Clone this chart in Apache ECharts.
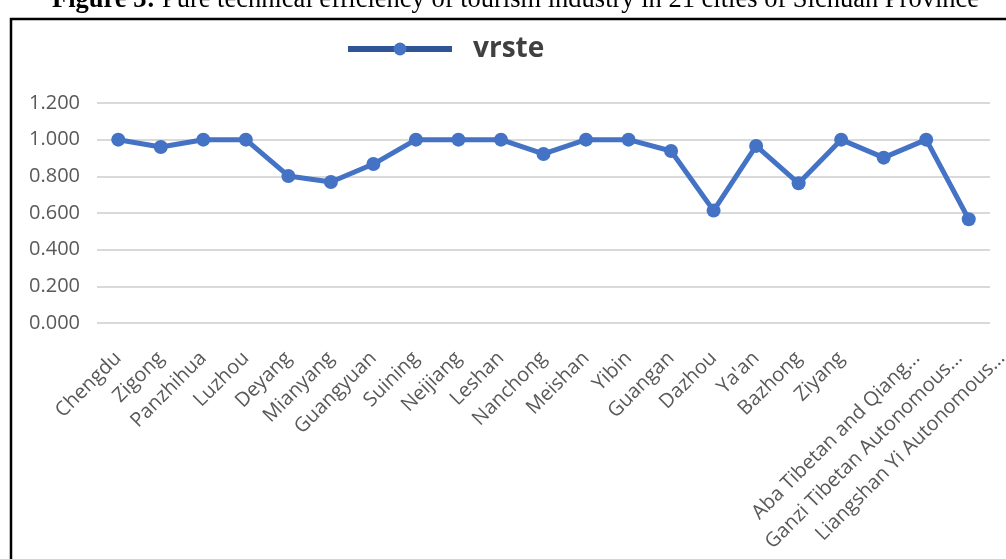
<!DOCTYPE html>
<html>
<head>
<meta charset="utf-8">
<style>
html, body { margin: 0; padding: 0; background: #fff; }
#main { width: 1006px; height: 559px; }
</style>
</head>
<body>
<div id="main"></div>
<script src="https://cdn.jsdelivr.net/npm/echarts@6/dist/echarts.min.js"></script>
<script>
// 21 cities of Sichuan
var cities = ['Chengdu', 'Zigong', 'Panzhihua', 'Luzhou', 'Deyang', 'Mianyang', 'Guangyuan',
	'Suining', 'Neijiang', 'Leshan', 'Nanchong', 'Meishan', 'Yibin', 'Guangan', 'Dazhou',
	"Ya'an", 'Bazhong', 'Ziyang', 'Aba Tibetan and Qiang...', 'Ganzi Tibetan Autonomous...',
	'Liangshan Yi Autonomous...'];
var vrste = [1.000, 0.960, 1.000, 1.000, 0.802, 0.769, 0.867, 1.000, 1.000, 1.000, 0.922,
	1.000, 1.000, 0.938, 0.613, 0.966, 0.762, 1.000, 0.902, 1.000, 0.566];
var yTicks = [0, 0.2, 0.4, 0.6, 0.8, 1.0, 1.2];

var chart = echarts.init(document.getElementById('main'));
var labelFont = '"Open Sans", "DejaVu Sans", sans-serif';
var longFrom = 18; // truncated names sit further right in the original

var xLabel = {
	rotate: 45,
	margin: 32,
	fontFamily: labelFont,
	fontSize: 20,
	color: '#595959'
};

var option = {
	animation: false,
	title: {
		text: '{b|Figure 3:} Pure technical efficiency of tourism industry in 21 cities of Sichuan Province',
		left: 47,
		top: -18,
		textStyle: {
			fontFamily: '"Liberation Serif", serif',
			fontSize: 26.5,
			fontWeight: 'normal',
			color: '#000',
			rich: {
				b: { fontFamily: '"Liberation Serif", serif', fontSize: 26.5, fontWeight: 'bold', color: '#000' }
			}
		}
	},
	graphic: [{
		type: 'rect',
		shape: { x: 11, y: 19, width: 1010, height: 600 },
		style: { fill: 'none', stroke: '#000', lineWidth: 2.5 }
	}],
	legend: {
		left: 340,
		top: 30,
		itemWidth: 104,
		itemHeight: 16,
		itemGap: 10,
		lineStyle: { color: '#2F5597', width: 6 },
		textStyle: {
			fontFamily: labelFont,
			fontSize: 28,
			fontWeight: 'bold',
			color: '#404040',
			padding: [0, 0, 0, 16]
		},
		data: ['vrste']
	},
	grid: [
		{ left: 97, width: 893, top: 103, bottom: 236, outerBoundsMode: 'none' },
		{ left: 130, width: 893, top: 103, bottom: 236, outerBoundsMode: 'none' }
	],
	xAxis: [{
		type: 'category',
		data: cities,
		axisLine: { show: false },
		axisTick: { show: false },
		axisLabel: Object.assign({}, xLabel, {
			interval: function (i) { return i < longFrom; }
		})
	}, {
		type: 'category',
		gridIndex: 1,
		data: cities,
		axisLine: { show: false },
		axisTick: { show: false },
		axisLabel: Object.assign({}, xLabel, {
			interval: function (i) { return i >= longFrom; }
		})
	}],
	yAxis: [{
		type: 'value',
		min: yTicks[0],
		max: yTicks[yTicks.length - 1],
		interval: 0.2,
		axisLine: { show: false },
		axisTick: { show: false },
		axisLabel: {
			margin: 17,
			fontFamily: labelFont,
			fontSize: 20,
			color: '#595959',
			formatter: function (v) { return v.toFixed(3); }
		},
		splitLine: { lineStyle: { color: '#d9d9d9', width: 2 } }
	}, {
		type: 'value',
		gridIndex: 1,
		show: false,
		min: yTicks[0],
		max: yTicks[yTicks.length - 1]
	}],
	series: [{
		name: 'vrste',
		type: 'line',
		data: vrste,
		symbol: 'circle',
		symbolSize: 14,
		lineStyle: { color: '#4472C4', width: 5 },
		itemStyle: { color: '#4472C4' }
	}]
};
chart.setOption(option);
</script>
</body>
</html>
